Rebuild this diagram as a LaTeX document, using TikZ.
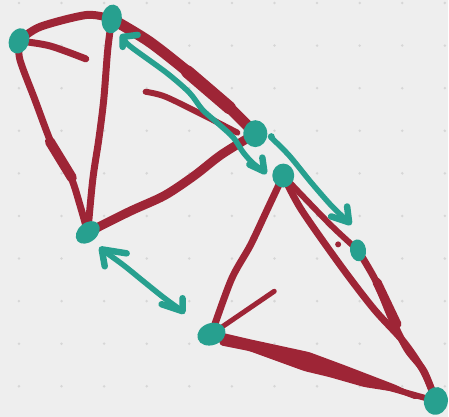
\documentclass[tikz,border=0pt]{standalone}
\usetikzlibrary{shapes.geometric}
\pgfdeclarelayer{back}
\pgfsetlayers{back,main}
\definecolor{bg}{HTML}{EEEEEE}
\definecolor{dotc}{HTML}{D6D6D6}
\definecolor{ink}{HTML}{9E2536}
\definecolor{tl}{HTML}{27A08F}
\begin{document}
\begin{tikzpicture}[x=1pt,y=-1pt,
  inkline/.style={draw=ink,line width=#1,line cap=round,line join=round},
  inkline/.default=7pt,
  tealline/.style={draw=tl,line width=5.5pt,line cap=round,line join=round},
  tealhead/.style={draw=tl,line width=6.5pt,line cap=round,line join=round},
  blob/.style={ellipse,fill=tl,inner sep=0pt,outer sep=0pt}]
% blobs (vertices)
\node[blob,minimum width=20pt,minimum height=26pt,rotate=-20] (A) at (19,41) {};
\node[blob,minimum width=20pt,minimum height=29pt,rotate=-8] (B) at (112,19) {};
\node[blob,minimum width=27pt,minimum height=19pt,rotate=40] (C) at (88,233) {};
\node[blob,minimum width=24pt,minimum height=27pt] (D) at (256,134) {};
\node[blob,minimum width=22pt,minimum height=24pt] (E) at (284,176) {};
\node[blob,minimum width=16pt,minimum height=22pt,rotate=8] (F) at (359,251) {};
\node[blob,minimum width=29pt,minimum height=22pt,rotate=20] (G) at (212,335) {};
\node[blob,minimum width=24pt,minimum height=28pt,rotate=-10] (H) at (437,402) {};
\fill[tl] (272,137) circle[radius=3.5pt];
% free ends
\coordinate (s1) at (86,59);
\coordinate (s2) at (146,92);
\coordinate (s3) at (238,133);
\coordinate (s4) at (275,292);
\coordinate (t1a) at (123,37);
\coordinate (t1b) at (265,172);
\coordinate (t2a) at (272,138);
\coordinate (t2b) at (350,223);
\coordinate (t3a) at (102,250);
\coordinate (t3b) at (183,312);
\begin{pgfonlayer}{back}
\fill[bg] (0,0) rectangle (449,418);
\foreach \i in {0,...,10}
  \foreach \j in {0,...,9}
    \fill[dotc] (19+42.7*\i,3+42.7*\j) circle[radius=1.4pt];
% first triangle
\draw[inkline=8pt] plot[smooth] coordinates {(A.center) (40,27) (87,15) (B.center)};
\draw[inkline=7pt] plot[smooth] coordinates {(A.center) (50,46) (s1)};
\draw[inkline=7pt] plot[smooth] coordinates {(A.center) (20,60) (35,100) (50,140) (60,160) (72,180) (80,205) (C.center)};
\draw[inkline=10pt] (50,142) -- (72,178);
\draw[inkline=7pt] plot[smooth] coordinates {(B.center) (108,50) (104,100) (99,140) (93,180) (C.center)};
\draw[inkline=9pt] plot[smooth] coordinates {(C.center) (130,212) (165,196) (195,176) (222,155) (D.center)};
\draw[inkline=11pt] plot[smooth] coordinates {(B.center) (150,42) (192,75) (228,106) (D.center)};
\draw[inkline=13pt] (188,72) -- (230,108);
\draw[inkline=6pt] plot[smooth] coordinates {(s2) (166,97) (205,116) (s3)};
% second triangle
\draw[inkline=7pt] plot[smooth] coordinates {(E.center) (268,210) (251,246) (232,280) (G.center)};
\draw[inkline=5pt] (G.center) -- (s4);
\draw[inkline=6pt] plot[smooth] coordinates {(G.center) (250,346) (310,363) (360,380) (398,391) (H.center)};
\fill[ink,rounded corners=3pt] (220,333) -- (250,340) -- (310,353) -- (345,366) -- (397,386) -- (420,397)
   -- (418,401) -- (397,393) -- (365,388) -- (330,378) -- (305,372) -- (250,352) -- (220,346) -- cycle;
\draw[inkline=7pt] plot[smooth] coordinates {(E.center) (302,210) (342,267) (375,310) (405,343) (425,373) (H.center)};
\draw[inkline=6pt] plot[smooth] coordinates {(E.center) (300,193) (333,227) (F.center)};
\draw[inkline=7pt] plot[smooth] coordinates {(F.center) (377,282) (392,318) (408,350) (425,372) (H.center)};
\draw[inkline=9pt] (378,283) -- (398,325);
\fill[ink] (339,245) circle[radius=3pt];
\end{pgfonlayer}
% teal arrows
\draw[tealline] plot[smooth] coordinates {(t1a) (130,46) (167,73) (190,93) (203,110) (220,125) (234,138) (244,153) (254,164) (t1b)};
\draw[tealhead] (138,35) -- (t1a) -- (123,47);
\draw[tealhead] (250,165) -- (t1b) -- (263,158);
\draw[tealline] plot[smooth] coordinates {(t2a) (290,156) (312,183) (333,207) (t2b)};
\draw[tealhead] (332,217) -- (t2b) -- (348,207);
\draw[tealline] plot[smooth] coordinates {(t3a) (124,266) (145,283) (165,299) (t3b)};
\draw[tealhead] (127,254) -- (t3a) -- (105,267);
\draw[tealhead] (162,305) -- (t3b) -- (183,299);
\end{tikzpicture}
\end{document}
